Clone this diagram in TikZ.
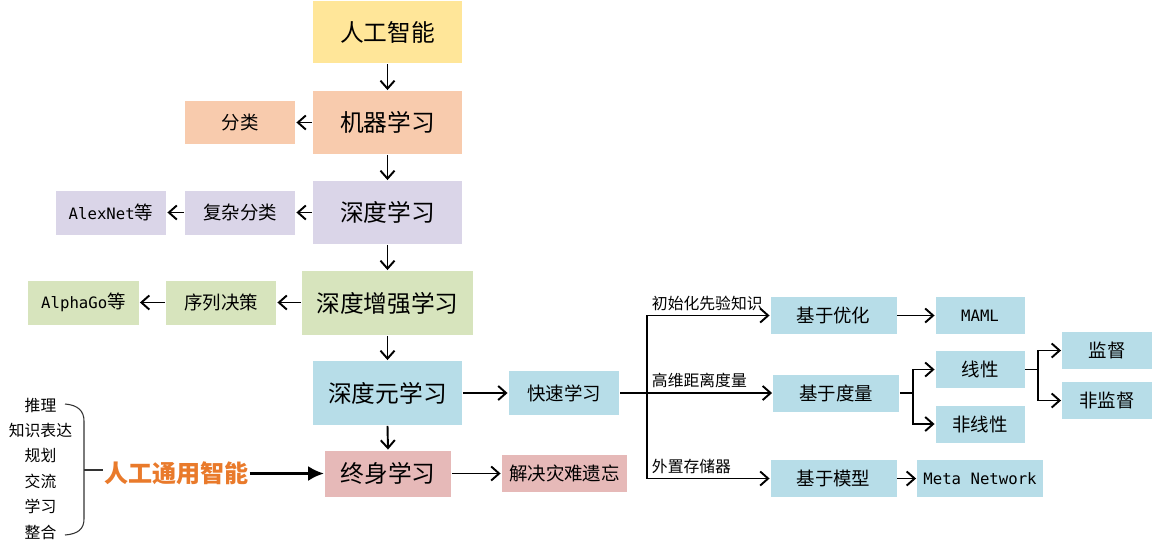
\documentclass[tikz,border=0pt]{standalone}
\usepackage{fontspec}
\setmainfont{Noto Sans CJK SC}
\setmonofont[Scale=0.85]{DejaVu Sans Mono}
\usetikzlibrary{arrows.meta,calc,positioning}

\definecolor{aiyellow}{HTML}{FFE699}
\definecolor{mlpeach}{HTML}{F8CBAD}
\definecolor{dllav}{HTML}{DAD5E8}
\definecolor{drlgreen}{HTML}{D7E4BD}
\definecolor{dmlblue}{HTML}{B7DDE8}
\definecolor{llpink}{HTML}{E6B9B8}
\definecolor{agiorange}{HTML}{E97A2B}

\begin{document}
\begin{tikzpicture}[x=0.02cm, y=-0.02cm, line width=1.1pt,
            mainbox/.style={
            rectangle,
            inner sep=0pt,
            minimum width=2.98cm,
            minimum height=1.26cm,
            font=\fontsize{13.5}{16}\selectfont},
            subbox/.style={
            rectangle,
            inner sep=0pt,
            minimum width=2.22cm,
            minimum height=0.88cm,
            font=\fontsize{10.5}{12}\selectfont},
            methbox/.style={
            rectangle,
            fill=dmlblue,
            inner sep=0pt,
            minimum width=2.52cm,
            minimum height=0.74cm,
            font=\fontsize{10.5}{12}\selectfont},
            leafbox/.style={
            rectangle,
            fill=dmlblue,
            inner sep=0pt,
            minimum width=1.78cm,
            minimum height=0.74cm,
            font=\fontsize{10.5}{12}\selectfont},
            branchlbl/.style={
            anchor=west,
            inner sep=0pt,
            font=\fontsize{9}{11}\selectfont},
            skilltext/.style={
            inner sep=0pt,
            font=\fontsize{9}{11}\selectfont},
            arr/.style={-{Straight Barb[length=4.5pt,width=8pt]}},
            bigarr/.style={line width=1.7pt, -{Latex[length=9pt,width=8.5pt]}}]

           \useasboundingbox (0,0) rectangle (1152,548);

           % main column
           \node[mainbox, fill=aiyellow] (ai) at (387.5,32) {人工智能};
           \node[mainbox, fill=mlpeach] (ml) at (387.5,122.5) {机器学习};
           \node[mainbox, fill=dllav] (dl) at (387.5,212.5) {深度学习};
           \node[mainbox, fill=drlgreen, minimum width=3.42cm, minimum height=1.28cm] (drl) at (387.5,303) {深度增强学习};
           \node[mainbox, fill=dmlblue, minimum height=1.28cm] (dml) at (387.5,393) {深度元学习};
           \node[mainbox, fill=llpink, minimum width=2.52cm, minimum height=0.92cm] (ll) at (388,473.5) {终身学习};

           \draw[arr] (ai.south) -- (ml.north);
           \draw[arr] (ml.south) -- (dl.north);
           \draw[arr] (dl.south) -- (drl.north);
           \draw[arr] (drl.south) -- (dml.north);
           \draw[arr] (dml.south) -- (ll.north);

           % left side
           \node[subbox, fill=mlpeach] (cls) at (240,122.5) {分类};
           \node[subbox, fill=dllav] (ccls) at (240,212.5) {复杂分类};
           \node[subbox, fill=dllav] (alex) at (111,212.5) {\texttt{AlexNet}等};
           \node[subbox, fill=drlgreen] (seq) at (221,302.5) {序列决策};
           \node[subbox, fill=drlgreen] (alpha) at (83.5,302.5) {\texttt{AlphaGo}等};

           \draw[arr] (ml.west) -- (cls.east);
           \draw[arr] (dl.west) -- (ccls.east);
           \draw[arr] (ccls.west) -- (alex.east);
           \draw[arr] (drl.west |- seq.east) -- (seq.east);
           \draw[arr] (seq.west) -- (alpha.east);

           % fast learning and its branches
           \node[subbox, fill=dmlblue] (fast) at (564,393) {快速学习};
           \node[methbox, fill=llpink, minimum height=0.73cm] (forget) at (564.5,473.5) {解决灾难遗忘};
           \draw[arr] (dml.east) -- (fast.west);
           \draw[arr] (ll.east) -- (forget.west);

           \node[methbox] (opt) at (833.5,315.5) {基于优化};
           \node[methbox] (met) at (836,393) {基于度量};
           \node[methbox] (mod) at (833.5,478.5) {基于模型};
           \coordinate (fork) at (647,393);
           \draw (fast.east) -- (fork);
           \draw[arr] (fork) |- (opt.west);
           \draw[arr] (fork) -- (met.west);
           \draw[arr] (fork) |- (mod.west);
           \node[branchlbl] (initlbl) at (651,303) {初始化先验知识};
           \node[branchlbl] (distlbl) at (651,380.5) {高维距离度量};
           \node[branchlbl] (memlbl) at (651,466.5) {外置存储器};

           \node[leafbox] (maml) at (980,315.5) {\texttt{MAML}};
           \node[leafbox] (lin) at (980,369.5) {线性};
           \node[leafbox] (nlin) at (980,424) {非线性};
           \node[leafbox, minimum width=1.8cm] (sup) at (1107,350.5) {监督};
           \node[leafbox, minimum width=1.8cm] (unsup) at (1107,400.5) {非监督};
           \node[methbox] (metanet) at (980,478.5) {\texttt{Meta Network}};

           \draw[arr] (opt.east) -- (maml.west);
           \draw[arr] (mod.east) -- (metanet.west);
           \coordinate (metfork) at (913,393);
           \draw (met.east) -- (metfork);
           \draw[arr] (metfork) |- (lin.west);
           \draw[arr] (metfork) |- (nlin.west);
           \coordinate (linfork) at (1038,369.5);
           \draw (lin.east) -- (linfork);
           \draw[arr] (linfork) |- (sup.west);
           \draw[arr] (linfork) |- (unsup.west);

           % general AI
           \foreach \t [count=\i] in {推理,知识表达,规划,交流,学习,整合}
           {
                      \node[skilltext] (skill\i) at (40.5, 405+25.4*\i-25.4) {\t};
           }
           \node[inner sep=0pt, text=agiorange, font=\fontsize{13.7}{16}\selectfont\bfseries] (agi) at (176.5,473) {人工通用智能};
           \coordinate (bracetip) at (84,470);
           \draw[line width=0.6pt, black!80] (65,404) .. controls (78,405) and (84,411) .. (84,421) -- (84,519)
                      .. controls (84,529) and (78,534) .. (65,535);
           \draw[line width=0.6pt, black!80] (bracetip) -- (bracetip -| agi.west);
           \draw[bigarr] (agi.east |- ll.west) -- (ll.west);
\end{tikzpicture}
\end{document}
